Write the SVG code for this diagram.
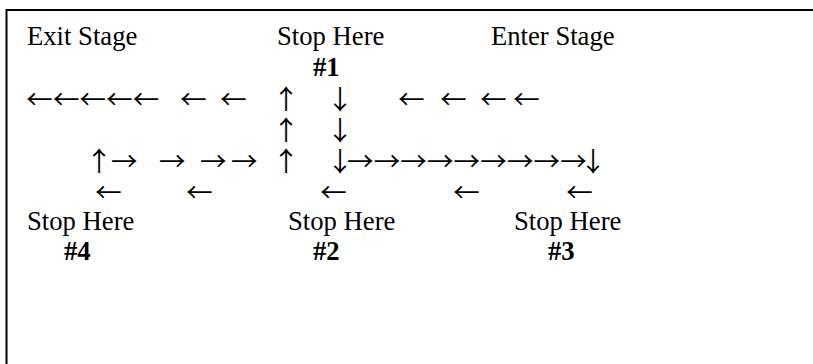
<svg xmlns="http://www.w3.org/2000/svg" width="813" height="364" viewBox="0 0 813 364">
<style>
text{font-family:"Liberation Serif","Times New Roman",serif;font-size:26.67px;fill:#000}
.b{font-weight:bold}
.a{font-family:"Noto Sans CJK SC","DejaVu Serif",sans-serif}
.frame{stroke:#000;stroke-width:2;fill:none}
</style>
<rect width="813" height="364" fill="#fff"/>
<path class="frame" d="M6.5,364 V10 H813"/>
<g id="exit-stage"><text x="27" y="45">Exit Stage</text></g>
<g id="stop-1"><text x="277" y="45">Stop Here</text><text class="b" x="313" y="76">#1</text></g>
<g id="enter-stage"><text x="491" y="45">Enter Stage</text></g>
<g id="stop-4"><text x="27" y="230">Stop Here</text><text class="b" x="64" y="260">#4</text></g>
<g id="stop-2"><text x="288" y="230">Stop Here</text><text class="b" x="313" y="260">#2</text></g>
<g id="stop-3"><text x="514" y="230">Stop Here</text><text class="b" x="548" y="260">#3</text></g>
<g id="connectors">
<text class="a"><tspan x="26" y="108.5">←←←←←</tspan><tspan x="180" y="108.5">←</tspan><tspan x="220" y="108.5">←</tspan><tspan x="272.7" y="108.5">↑</tspan><tspan x="326.7" y="108.5">↓</tspan><tspan x="398" y="108.5">←</tspan><tspan x="440" y="108.5">←</tspan><tspan x="480" y="108.5">←</tspan><tspan x="513" y="108.5">←</tspan><tspan x="272.7" y="139.5">↑</tspan><tspan x="326.7" y="139.5">↓</tspan><tspan x="85.7" y="170.5">↑</tspan><tspan x="111" y="170.5">→</tspan><tspan x="159" y="170.5">→</tspan><tspan x="200" y="170.5">→</tspan><tspan x="231" y="170.5">→</tspan><tspan x="272.7" y="170.5">↑</tspan><tspan x="326.7" y="170.5">↓</tspan><tspan x="347" y="170.5">→→→→→→→→→</tspan><tspan x="579.7" y="170.5">↓</tspan><tspan x="95" y="201.5">←</tspan><tspan x="186" y="201.5">←</tspan><tspan x="320" y="201.5">←</tspan><tspan x="453" y="201.5">←</tspan><tspan x="566" y="201.5">←</tspan></text>
</g>
</svg>
